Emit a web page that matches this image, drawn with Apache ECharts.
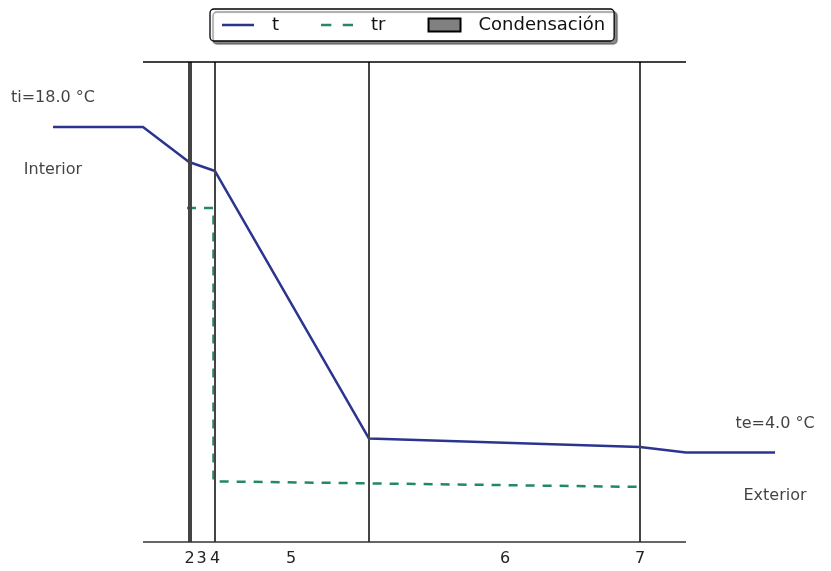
<!DOCTYPE html>
<html>
<head>
<meta charset="utf-8">
<script src="https://cdn.jsdelivr.net/npm/echarts@6/dist/echarts.min.js"></script>
<style>
  html, body { margin: 0; padding: 0; background: #fff; }
  #main { width: 831px; height: 571px; }
</style>
</head>
<body>
<div id="main"></div>
<script>
// posición a lo largo del muro (unidades de dibujo) y temperaturas
const xT = [-90, 0, 46, 72, 226, 497, 543, 632];
const tVals = [18.0, 18.0, 16.5, 16.11, 4.6, 4.24, 4.0, 4.0];
const xTr = [44, 70.5, 70.5, 497];
const trVals = [14.52, 14.52, 2.76, 2.52];

// límites del muro y del eje vertical
const wallStart = 0, wallEnd = 543;
const xMin = -90, xMax = 632;
const yMin = 0.15, yMax = 20.8;

// líneas verticales de las capas
const layerLines = [45.5, 47.5, 72, 226, 497];
// etiquetas de capa en el eje x
const layerNames = ["1", "2", "3", "4", "5", "6", "7"];
const layerLabelPos = [45, 46.5, 58.5, 72, 148, 362, 497];

// textos de los extremos
const sideX = [xMin, xMin, xMax, xMax];
const sideY = [18.0, 18.0, 4.0, 4.0];
const sideText = ["ti=18.0 °C", "Interior", "te=4.0 °C", "Exterior"];
const sideAbove = [true, false, true, false];

const FONT = "DejaVu Sans";
const C_T = "#2b3590";
const C_TR = "#24876a";

// iconos de leyenda: línea continua y discontinua
const ICON_SOLID = "path://M0,0h28v2.2h-28z";
const ICON_DASH = "path://M0,0h9v2.2h-9zM19,0h9v2.2h-9z";

var myChart = echarts.init(document.getElementById("main"));
myChart.setOption({
  animation: false,
  textStyle: { fontFamily: FONT },
  legend: {
    left: 210,
    top: 9,
    padding: [7, 9, 7, 12],
    itemGap: 42,
    itemWidth: 32,
    itemHeight: 13,
    backgroundColor: "#fff",
    borderColor: "#000",
    borderWidth: 1.3,
    borderRadius: 4,
    shadowColor: "rgba(0,0,0,0.45)",
    shadowBlur: 1,
    shadowOffsetX: 3,
    shadowOffsetY: 3,
    textStyle: { fontSize: 18, color: "#111", fontFamily: FONT, padding: [0, 0, 0, 13] },
    data: [
      { name: "t", icon: ICON_SOLID, itemStyle: { color: C_T } },
      { name: "tr", icon: ICON_DASH, itemStyle: { color: C_TR } },
      { name: "Condensación", icon: "rect" }
    ]
  },
  grid: { left: 53, right: 56, top: 62, bottom: 29 },
  xAxis: {
    type: "value",
    min: xMin,
    max: xMax,
    splitLine: { show: false },
    axisTick: { show: false },
    axisLine: { show: false },
    axisLabel: {
      customValues: layerLabelPos,
      hideOverlap: false,
      margin: 9,
      fontSize: 16,
      color: "#222",
      fontFamily: FONT,
      formatter: function (v) {
        return layerNames[layerLabelPos.indexOf(v)];
      }
    }
  },
  yAxis: {
    type: "value",
    min: yMin,
    max: yMax,
    show: false,
    splitLine: { show: false }
  },
  series: [
    {
      name: "tr",
      type: "line",
      symbol: "none",
      data: xTr.map((x, i) => [x, trVals[i]]),
      lineStyle: { color: C_TR, width: 2.5, type: [9, 8] },
      itemStyle: { color: C_TR },
      markLine: {
        silent: true,
        symbol: ["none", "none"],
        label: { show: false },
        lineStyle: { color: "#444", width: 2, type: "solid" },
        data: layerLines.map(x => ({ xAxis: x })).concat([
          [
            { coord: [wallStart, yMax], lineStyle: { color: "#000", width: 1.5 } },
            { coord: [wallEnd, yMax] }
          ],
          [
            { coord: [wallStart, yMin], lineStyle: { color: "#333", width: 1.5 } },
            { coord: [wallEnd, yMin] }
          ]
        ])
      }
    },
    {
      name: "t",
      type: "line",
      symbol: "none",
      data: xT.map((x, i) => [x, tVals[i]]),
      lineStyle: { color: C_T, width: 2.5 },
      itemStyle: { color: C_T }
    },
    {
      name: "Condensación",
      type: "bar",
      data: [],
      itemStyle: { color: "#808080", borderColor: "#000", borderWidth: 1 }
    },
    {
      name: "notas",
      type: "scatter",
      clip: false,
      silent: true,
      symbolSize: 0,
      data: sideX.map((x, i) => ({
        value: [x, sideY[i]],
        label: {
          show: true,
          formatter: sideText[i],
          position: sideAbove[i] ? "top" : "bottom",
          distance: sideAbove[i] ? 21 : 35,
          fontSize: 16,
          color: "#111",
          fontFamily: FONT
        }
      }))
    }
  ]
});
</script>
</body>
</html>
